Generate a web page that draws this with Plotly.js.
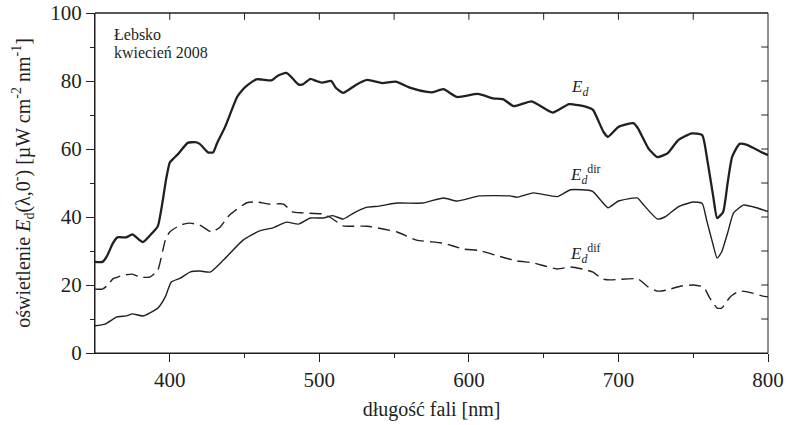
<!DOCTYPE html>
<html>
<head>
<meta charset="utf-8">
<script src="https://cdn.plot.ly/plotly-3.0.1.min.js"></script>
<style>html,body{margin:0;padding:0;background:#fff;}#chart{width:787px;height:425px;}</style>
</head>
<body>
<div id="chart"></div>
<script>
// Wavelength [nm] and irradiance [µW cm^-2 nm^-1]
const edX = [350,355,358,362,365,371,375,382,387,392,395,397.5,400,402,405.5,412,417,420,425.6,429,431.6,437,445,449,452,458,462,468,472,478,482,486,489,494,498,502,508,511,516,525,532,542,551,561,572,576,583,592,606,616,623,630,642,656,667,679,683,690,693,700,710,713,720,726,733,740,749,756,759.4,763.4,766,770,773,776,781,786,795,800];
const edY = [26.8,26.8,28.5,32.3,34,34,34.9,32.6,34.7,37.3,44,51,56,57,58.5,61.8,62,61.5,59,59,61.7,66.5,75.3,77.6,78.8,80.5,80.4,80.2,81.5,82.4,80.8,79,79,80.6,80,79.5,80,78,76.5,79,80.3,79.4,79.8,78,76.8,76.7,77.6,75.3,76.2,74.9,74.6,72.6,74,70.7,73.2,72.3,71.5,65,63.6,66.5,67.6,66.1,60.2,57.6,58.8,62.6,64.6,64.1,56.8,46,39.7,41.5,50,57.7,61.5,61.2,59.2,58.2];

const dirX = [350,356.7,364.7,371,375,382,392,397,401,407,413.5,420,427,436,449,460,469,478,486,494,502.5,509,516,522.6,532,540,552,569,583,592,607,627.6,632,643,659,668,682.5,688,693,700,712.6,716,726,731,740,750,756,759,763,766,769,773,777,783.6,790,800];
const dirY = [8,8.5,10.6,10.9,11.5,10.9,13.2,16.5,20.9,22,23.8,24.1,23.8,27.4,33.2,35.9,36.8,38.5,37.9,39.7,39.7,40.4,39.4,41.1,42.9,43.2,44.1,44.1,45.6,44.7,46.2,46.2,45.8,47.1,46,48,47.6,45,42.7,44.7,45.6,44,39.4,40,43,44.4,44,39,32.3,27.9,29.7,35.3,41.2,43.5,43,41.6];

const difX = [350,355,358.7,362,369,375,380,387,392,397,400,407,413.5,420,428,433.6,440,451.6,458,467,476,482,489,502,507,516,532,552,565,583,596,607.5,619,632,643,659,668,676,683,689,694.5,713,720,726,732,742,750,757,761,766,769,774.7,781,789,796,800];
const difY = [18.8,18.8,20,21.8,22.9,23.2,22.3,22.4,24.4,33.2,35.6,37.6,38.2,37.6,35.6,37,40.6,44.2,44.4,43.8,43.8,41.5,41.2,40.9,40,37.4,37.3,35.6,33.2,32.3,30.6,30.1,28.6,27.1,26.5,24.7,25.3,24.7,23.8,21.8,21.5,21.8,19.4,18.2,18.5,19.7,20,19.4,16.2,13.2,13.2,16.5,18.2,17.7,16.8,16.5];

const xTicks = [400,500,600,700,800];
const xMinor = [450,550,650,750];
const xTopTicks = [400,450,500,550,600,650,700,750];
const yRightTicks = [10,20,30,40,50,60,70,80,90];

const ink = '#231f20';
const serif = 'Liberation Serif';

const traces = [
  {x: edX, y: edY, mode: 'lines', line: {color: ink, width: 2.3, shape: 'spline', smoothing: 0.5}, hoverinfo: 'skip'},
  {x: dirX, y: dirY, mode: 'lines', line: {color: ink, width: 1.4, shape: 'spline', smoothing: 0.5}, hoverinfo: 'skip'},
  {x: difX, y: difY, mode: 'lines', line: {color: ink, width: 1.4, dash: '12px,6px', shape: 'spline', smoothing: 0.5}, hoverinfo: 'skip'}
];

// frame and inside ticks on top/right drawn as shapes
const shapes = [
  {type: 'rect', xref: 'paper', yref: 'paper', x0: 0, x1: 1, y0: 0, y1: 1, line: {color: ink, width: 1}},
  {type: 'line', xref: 'paper', yref: 'paper', x0: 0, x1: 1, y0: 1, y1: 1, line: {color: ink, width: 1.2}}
];
xTopTicks.forEach(v => shapes.push({type: 'line', xref: 'x', yref: 'paper', x0: v, x1: v, y0: 1, y1: 0.98, line: {color: ink, width: 1}}));
yRightTicks.forEach(v => shapes.push({type: 'line', xref: 'paper', yref: 'y', x0: 1, x1: 0.99, y0: v, y1: v, line: {color: ink, width: 1}}));

const layout = {
  width: 787, height: 425,
  margin: {l: 95, r: 19, t: 13, b: 72},
  paper_bgcolor: '#fff', plot_bgcolor: '#fff',
  showlegend: false,
  font: {family: serif, color: ink, size: 21},
  xaxis: {
    range: [350, 800], tickvals: xTicks, ticks: 'outside', ticklen: 8, tickwidth: 1, tickcolor: ink,
    minor: {tickvals: xMinor, ticks: 'outside', ticklen: 4, tickcolor: ink, showgrid: false},
    showline: true, linecolor: ink, linewidth: 1, showgrid: false, zeroline: false,
    tickfont: {family: serif, size: 21, color: ink},
    title: {text: 'długość fali [nm]', font: {family: serif, size: 20, color: ink}, standoff: 10}
  },
  yaxis: {
    range: [0, 100], dtick: 20, ticks: 'outside', ticklen: 8, tickwidth: 1, tickcolor: ink,
    minor: {dtick: 10, ticks: 'outside', ticklen: 4, tickcolor: ink, showgrid: false},
    showline: true, linecolor: ink, linewidth: 1, showgrid: false, zeroline: false,
    tickfont: {family: serif, size: 21, color: ink},
    title: {text: 'oświetlenie <i>E</i><sub>d</sub>(λ,0<sup>-</sup>) [µW cm<sup>-2</sup> nm<sup>-1</sup>]', font: {family: serif, size: 20, color: ink}, standoff: 14}
  },
  shapes: shapes,
  annotations: [
    {text: 'Łebsko', xref: 'paper', yref: 'paper', x: 0.025, y: 0.938, xanchor: 'left', yanchor: 'middle', align: 'left', showarrow: false, font: {family: serif, size: 16, color: ink}},
    {text: 'kwiecień 2008', xref: 'paper', yref: 'paper', x: 0.025, y: 0.885, xanchor: 'left', yanchor: 'middle', align: 'left', showarrow: false, font: {family: serif, size: 16, color: ink}},
    {text: '<i>E<sub>d</sub></i>', x: 674, y: 78, xref: 'x', yref: 'y', showarrow: false, font: {family: serif, size: 17, color: ink}},
    {text: '<i>E<sub>d</sub></i><sup>dir</sup>', x: 678, y: 52.5, xref: 'x', yref: 'y', showarrow: false, font: {family: serif, size: 17, color: ink}},
    {text: '<i>E<sub>d</sub></i><sup>dif</sup>', x: 678, y: 29.3, xref: 'x', yref: 'y', showarrow: false, font: {family: serif, size: 17, color: ink}}
  ]
};

Plotly.newPlot('chart', traces, layout, {displayModeBar: false});
</script>
</body>
</html>
